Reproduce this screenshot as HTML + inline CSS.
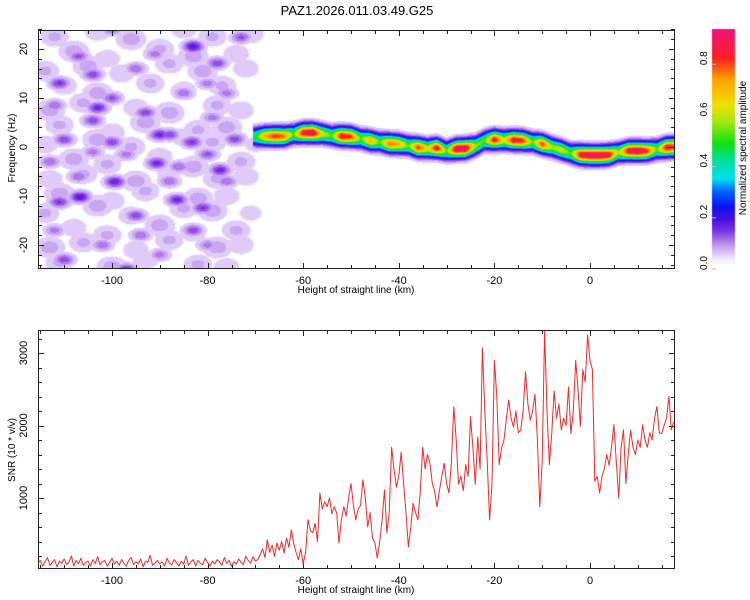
<!DOCTYPE html>
<html><head><meta charset="utf-8"><style>
html,body{margin:0;padding:0;background:#fff;width:750px;height:600px;overflow:hidden;font-family:"Liberation Sans",sans-serif}
#wrap{position:relative;width:750px;height:600px}
canvas,svg{position:absolute;left:0;top:0}
</style></head><body>
<div id="wrap">
<canvas id="heat" width="750" height="600"></canvas>
<svg id="svg" width="750" height="600"></svg>
</div>
<script>
// ---------- data ----------
const ridgeKm  = [-70,-68,-66,-64,-62,-60,-58,-56,-54,-52,-50,-48,-46,-44,-42,-40,-38,-36,-34,-32,-30,-28,-26,-24,-22,-20,-18,-16,-14,-12,-10,-8,-6,-4,-2,0,2,4,6,8,10,12,14,16,17.5];
const ridgeHz  = [2.1,2.2,2.2,2.2,2.6,2.9,2.9,2.7,2.3,2.2,2.1,1.7,1.3,1.0,0.7,0.6,0.3,-0.1,-0.3,-0.2,-0.8,-0.4,-0.3,0.2,1.3,1.5,1.4,1.4,1.3,1.0,0.6,0.0,-0.6,-1.3,-1.6,-1.7,-1.7,-1.6,-1.1,-0.8,-0.8,-0.8,-0.5,-0.1,0.0];
const ridgeAmp = [.45,.7,.8,.75,.5,.85,.9,.6,.5,.85,.8,.5,.7,.5,.75,.7,.5,.8,.6,.85,.5,.9,.9,.55,.5,.85,.6,.85,.8,.5,.8,.55,.6,.5,.85,.9,.9,.85,.55,.85,.9,.8,.5,.85,.8];

const blobKm  = [-83,-103,-111,-104,-99.4,-106.7,-111,-90.6,-90,-88,-83.3,-86.4,-81,-77.4,-74.3,-78,-73,-97,-110,-83,-104,-112,-97,-95,-100,-107,-95,-88,-80,-76,-93,-85,-113,-107,-79,-76,-80,-90,-102,-94,-112,-104,-110,-100,-86,-91,-100,-80];
const blobHz  = [20.5,8,13,5.4,-7.1,-10.2,-11.2,-3.3,2.5,2.5,1,-10.8,-12.4,-4.7,1.6,17.1,22.4,-25,-23,-17,14.8,8.5,-1.5,16,10,18.5,-14,-7,-1.5,-7,7,11,-3,-6,6,11,-20,-22,-20,-18,-17,-1,1.5,1,-4,19,24,13];
const blobAmp = [.16,.14,.13,.12,.15,.16,.13,.14,.14,.12,.13,.14,.13,.14,.12,.12,.11,.14,.12,.12,.12,.1,.09,.1,.11,.11,.12,.1,.11,.1,.12,.1,.1,.1,.09,.09,.09,.09,.1,.1,.09,.09,.12,.12,.1,.09,.1,.09];

const lightKm  = [-112,-103,-96,-85,-79,-71, -108,-101,-90,-83,-74, -114,-105,-98,-88,-81,-72, -110,-103,-92,-85,-77, -113,-106,-95,-88,-78,-73, -111,-100,-93,-82,-76, -114,-103,-96,-85,-79,-70, -108,-101,-90,-83,-73, -113,-106,-95,-88,-78,-72, -111,-100,-93,-82,-76, -114,-103,-96,-85,-79,-71, -108,-101,-90,-83,-74, -113,-106,-95,-88,-78,-73, -111,-100,-93,-82,-76];
const lightHz  = [22.5,23.5,22,24,22.5,23, 19.5,18,20,18.5,19, 15.5,16.5,15,17,15.5,16, 12.5,11,13,11.5,12.5, 7.5,9,8,7,8.5,7.5, 4.5,3,5,3.5,4, 0.5,1.5,0,2,1,0.5, -2.5,-3.5,-2,-4,-3, -6.5,-5.5,-7,-5,-6.5,-6, -9.5,-11,-9,-10.5,-10, -13.5,-12,-14,-12.5,-13,-13.5, -16.5,-18,-16,-17.5,-17, -20.5,-19.5,-21,-19,-20.5,-20, -23.5,-24.5,-23,-24,-24.5];
const lightAmp = [.06,.05,.07,.05,.06,.05, .07,.05,.06,.07,.05, .06,.07,.05,.06,.07,.05, .05,.07,.06,.05,.06, .07,.06,.05,.07,.06,.05, .06,.05,.07,.06,.07, .05,.07,.06,.05,.06,.04, .07,.06,.05,.07,.06, .05,.06,.07,.05,.06,.05, .07,.05,.06,.07,.05, .06,.07,.05,.06,.07,.04, .05,.06,.07,.05,.06, .07,.06,.05,.06,.07,.05, .06,.07,.05,.06,.05];

const snrStartKm = -115.5, snrStepKm = 0.5;
const snr = [
90,140,60,120,180,70,110,150,50,130,
100,160,80,120,200,60,140,90,170,70,
110,130,60,150,100,190,80,120,140,60,
110,170,90,130,70,150,100,60,140,180,
80,120,90,160,50,130,110,210,70,100,
140,90,120,60,170,100,80,150,110,60,
130,90,200,70,120,150,60,140,100,80,
170,110,60,130,90,150,120,70,180,100,
140,60,120,90,160,110,80,200,140,100,
190,130,
150,220,300,180,420,250,350,200,380,280,
400,240,450,320,560,380,250,150,300,90,
250,700,550,520,650,400,1070,850,950,880,
1000,780,880,790,380,700,880,750,1000,1200,
900,700,850,900,1250,1000,600,800,450,380,
170,400,700,1110,517,800,1700,1400,1150,1300,
1630,1200,800,325,600,930,800,700,1100,1700,
1400,1600,1480,1200,1100,875,1100,1300,1480,1200,
1070,1500,2260,1800,1190,1300,1100,1460,1300,2120,
1700,1190,1840,1400,3070,2200,1510,700,1200,2900,
2400,1460,1690,1800,2100,2350,2100,1980,2200,1900,
1940,2200,2740,2300,2070,2200,2430,1800,880,1500,
3310,2200,1460,1900,2480,2100,2300,1940,2100,2000,
2530,1890,2200,2900,2500,1990,2770,2600,3250,2900,
2770,1230,1300,1070,1300,1400,1600,1450,1700,2010,
1500,995,1700,1940,1200,1600,1940,1700,1600,1800,
1700,2010,1800,1700,1900,1800,2100,2260,1900,1890,
2000,2100,2400,1940,2050];

const xTickLabels = [-100,-80,-60,-40,-20,0];
const hzTickLabels = [-20,-10,0,10,20];
const snrTickLabels = [1000,2000,3000];
const cbTickLabels = [0.0,0.2,0.4,0.6,0.8];

// ---------- scales ----------
const X0=38, X1=675;
const xS = km => 590 + km*4.78;
const T0=30, T1=269;
const yHz = hz => 147 - hz*4.9;
const B0=330, B1=569;
const ySnr = v => 570.5 - v*0.0725;
const CB0=29, CB1=263, CBX=712, CBW=23;
const yCb = v => 263 - v*256;

const stops=[[0,[255,255,255]],[0.02,[240,230,252]],[0.04,[221,198,247]],[0.07,[194,155,240]],[0.10,[159,99,232]],[0.13,[122,46,230]],[0.17,[75,16,224]],[0.22,[16,16,240]],[0.28,[0,96,255]],[0.33,[0,224,240]],[0.40,[0,224,160]],[0.47,[16,224,16]],[0.55,[160,232,16]],[0.62,[240,224,0]],[0.72,[255,160,0]],[0.80,[255,32,32]],[0.92,[240,16,128]],[1,[240,16,128]]];
function cmap(v){
  for(let i=1;i<stops.length;i++){
    if(v<=stops[i][0]){const a=stops[i-1],b=stops[i];const t=(v-a[0])/(b[0]-a[0]);
      return [0,1,2].map(k=>Math.round(a[1][k]+(b[1][k]-a[1][k])*t));}
  }
  return stops[stops.length-1][1];
}

// ---------- heatmap ----------
const cv=document.getElementById('heat');const ctx=cv.getContext('2d');
const img=ctx.createImageData(750,600);
function ridgeAt(km){
  if(km<ridgeKm[0]-0.5||km>ridgeKm[ridgeKm.length-1]+1) return null;
  let i=0; while(i<ridgeKm.length-2 && km>ridgeKm[i+1]) i++;
  let t=(km-ridgeKm[i])/(ridgeKm[i+1]-ridgeKm[i]); t=Math.max(0,Math.min(1,t));
  return [ridgeHz[i]+(ridgeHz[i+1]-ridgeHz[i])*t, ridgeAmp[i]+(ridgeAmp[i+1]-ridgeAmp[i])*t];
}
for(let px=X0;px<X1;px++){
  const km=(px+0.5-590)/4.78;
  const r=ridgeAt(km);
  for(let py=T0;py<T1;py++){
    const hz=(147-(py+0.5))/4.9;
    let v=0;
    if(r){const d=hz-r[0]; v=Math.max(v,r[1]*Math.exp(-d*d/(2*1.15*1.15)));}
    for(let b=0;b<lightKm.length;b++){const dx=(km-lightKm[b])/2.2,dy=(hz-lightHz[b])/1.5;const e=dx*dx+dy*dy;if(e<9)v=Math.max(v,lightAmp[b]*Math.exp(-e/2));}
    for(let b=0;b<blobKm.length;b++){const dx=(km-blobKm[b])/1.6,dy=(hz-blobHz[b])/0.9;const e=dx*dx+dy*dy;if(e<9)v=Math.max(v,blobAmp[b]*Math.exp(-e/2));}
    if(v<0.02) continue;
    const q=Math.floor(v/0.025)*0.025+0.0125;
    const c=cmap(q);const o=(py*750+px)*4;
    img.data[o]=c[0];img.data[o+1]=c[1];img.data[o+2]=c[2];img.data[o+3]=255;
  }
}
// colorbar
for(let py=CB0;py<=CB1;py++){
  const v=(263-py)/256; const c=cmap(Math.max(0.01,v));
  for(let px=CBX;px<CBX+CBW;px++){const o=(py*750+px)*4;img.data[o]=c[0];img.data[o+1]=c[1];img.data[o+2]=c[2];img.data[o+3]=255;}
}
ctx.putImageData(img,0,0);

// ---------- svg ----------
const svg=document.getElementById('svg');const NS='http://www.w3.org/2000/svg';
function mk(tag,attrs,parent){const e=document.createElementNS(NS,tag);for(const k in attrs)e.setAttribute(k,attrs[k]);(parent||svg).appendChild(e);return e;}
function txt(s,x,y,attrs){const e=mk('text',Object.assign({x:x,y:y,'font-size':11,fill:'#000','font-family':'Liberation Sans, sans-serif'},attrs||{}));e.textContent=s;return e;}

const title=txt('PAZ1.2026.011.03.49.G25',357,15,{'text-anchor':'middle','font-size':13});



function frame(top,bot,name){
  const g=mk('g',{});
  
  
  mk('rect',{x:X0+0.5,y:top+0.5,width:X1-X0-1,height:bot-top-1,fill:'none',stroke:'#222','stroke-width':1},g);
  for(let km=-115;km<=17;km+=5){
    const x=Math.round(xS(km))+0.5;const L=(km%20===0)?6:4;
    mk('line',{x1:x,y1:top,x2:x,y2:top+L,stroke:'#222'},g);
    mk('line',{x1:x,y1:bot,x2:x,y2:bot-L,stroke:'#222'},g);
  }
  return g;
}
const gTop=frame(T0,T1,'spectrogram-axes');
for(let hz=-24;hz<=24;hz+=2){const y=Math.round(yHz(hz))+0.5;const L=(hz%10===0)?6:4;
  mk('line',{x1:X0,y1:y,x2:X0+L,y2:y,stroke:'#222'},gTop);mk('line',{x1:X1,y1:y,x2:X1-L,y2:y,stroke:'#222'},gTop);}
hzTickLabels.forEach(h=>{const t=txt(String(h),27,yHz(h),{'text-anchor':'middle',transform:`rotate(-90 27 ${yHz(h)})`});
  });
const gBot=frame(B0,B1,'snr-axes');
for(let v=0;v<=3300;v+=200){const y=Math.round(ySnr(v))+0.5;if(y>B1||y<B0)continue;const L=(v%1000===0)?6:4;
  mk('line',{x1:X0,y1:y,x2:X0+L,y2:y,stroke:'#222'},gBot);mk('line',{x1:X1,y1:y,x2:X1-L,y2:y,stroke:'#222'},gBot);}
snrTickLabels.forEach(v=>{const t=txt(String(v),27,ySnr(v),{'text-anchor':'middle',transform:`rotate(-90 27 ${ySnr(v)})`});
  });
xTickLabels.forEach(k=>{
  const a=txt(String(k),xS(k),284,{'text-anchor':'middle'});
  const b=txt(String(k),xS(k),584,{'text-anchor':'middle'});
});
const xl1=txt('Height of straight line (km)',356,293,{'text-anchor':'middle','font-size':10});

const xl2=txt('Height of straight line (km)',356,593,{'text-anchor':'middle','font-size':10});

const yl1=txt('Frequency (Hz)',15,148,{'text-anchor':'middle','font-size':10,transform:'rotate(-90 15 148)'});

const yl2=txt('SNR (10 * v/v)',15,450,{'text-anchor':'middle','font-size':10,transform:'rotate(-90 15 450)'});


// colorbar labels
cbTickLabels.forEach(v=>{const y=yCb(v);const t=txt(v.toFixed(1),707,y,{'text-anchor':'middle','font-size':10,transform:`rotate(-90 707 ${y})`});
  
  mk('line',{x1:CBX,y1:y+6,x2:CBX+4,y2:y+6,stroke:'#bbb'});});
const cbl=txt('Normalized spectral amplitude',746,148,{'text-anchor':'middle','font-size':10,transform:'rotate(-90 746 148)'});


// snr line
let pts=snr.map((v,i)=>xS(snrStartKm+i*snrStepKm).toFixed(1)+','+ySnr(v).toFixed(1)).join(' ');
const line=mk('polyline',{points:pts,fill:'none',stroke:'#ee2a2a','stroke-width':1,'stroke-linejoin':'round'});


</script>
</body></html>
